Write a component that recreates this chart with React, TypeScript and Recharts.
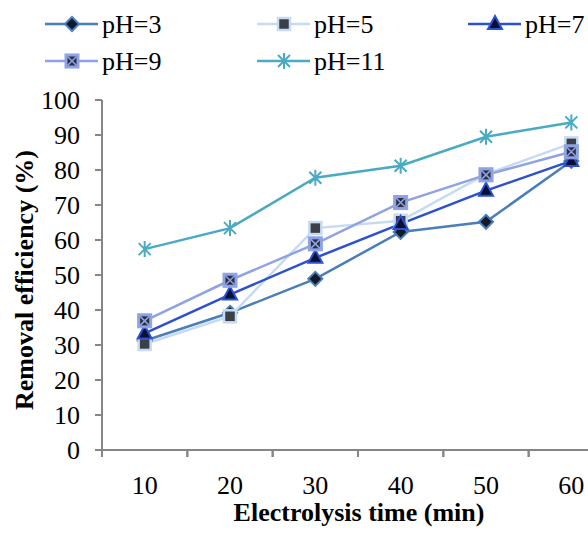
import { LineChart, Line, XAxis, YAxis } from "recharts";

const times = [10, 20, 30, 40, 50, 60];
const ph3 = [31.2, 39.2, 48.9, 62.3, 65.2, 82.6];
const ph5 = [30.3, 38.2, 63.4, 65.5, 78.8, 87.6];
const ph7 = [33.3, 44.4, 54.9, 64.6, 74.1, 82.6];
const ph9 = [36.9, 48.5, 58.9, 70.7, 78.6, 85.2];
const ph11 = [57.4, 63.4, 77.8, 81.2, 89.5, 93.6];
const yTicks = [0, 10, 20, 30, 40, 50, 60, 70, 80, 90, 100];

const data = times.map((t, i) => ({
  t,
  ph3: ph3[i],
  ph5: ph5[i],
  ph7: ph7[i],
  ph9: ph9[i],
  ph11: ph11[i],
}));

const FONT = '"Liberation Serif", "Times New Roman", Tinos';
const AXIS = "#868686";
const PLOT_BOTTOM = 450;
const HALF_BAND = 512 / 12;
const FS = 26;

type Kind = "diamond" | "square" | "triangle" | "xbox" | "star";

const series: { key: string; name: string; color: string; kind: Kind }[] = [
  { key: "ph3", name: "pH=3", color: "#4a7ebb", kind: "diamond" },
  { key: "ph5", name: "pH=5", color: "#c6dbf3", kind: "square" },
  { key: "ph7", name: "pH=7", color: "#2b50d4", kind: "triangle" },
  { key: "ph9", name: "pH=9", color: "#8fa2e4", kind: "xbox" },
  { key: "ph11", name: "pH=11", color: "#4aaac4", kind: "star" },
];

function Marker({ cx, cy, kind, color }: { cx: number; cy: number; kind: Kind; color: string }) {
  if (kind === "diamond") {
    return (
      <path
        d={`M${cx},${cy - 7} L${cx + 7},${cy} L${cx},${cy + 7} L${cx - 7},${cy} Z`}
        fill="#111a2a"
        stroke={color}
        strokeWidth={2}
      />
    );
  }
  if (kind === "square") {
    return <rect x={cx - 6} y={cy - 6} width={12} height={12} fill="#3b3f48" stroke={color} strokeWidth={2.5} />;
  }
  if (kind === "triangle") {
    return (
      <path
        d={`M${cx},${cy - 8} L${cx + 7},${cy + 5} L${cx - 7},${cy + 5} Z`}
        fill="#0b1030"
        stroke={color}
        strokeWidth={2}
      />
    );
  }
  if (kind === "xbox") {
    return (
      <g>
        <rect x={cx - 7} y={cy - 7} width={14} height={14} fill={color} stroke={color} strokeWidth={1} />
        <rect x={cx - 4.5} y={cy - 4.5} width={9} height={9} fill="#2a2f40" />
        <path
          d={`M${cx - 4.5},${cy - 4.5} L${cx + 4.5},${cy + 4.5} M${cx + 4.5},${cy - 4.5} L${cx - 4.5},${cy + 4.5}`}
          stroke={color}
          strokeWidth={1.5}
        />
      </g>
    );
  }
  return (
    <path
      d={`M${cx - 6},${cy - 6} L${cx + 6},${cy + 6} M${cx + 6},${cy - 6} L${cx - 6},${cy + 6} M${cx},${cy - 8} L${cx},${cy + 8}`}
      stroke={color}
      strokeWidth={2}
    />
  );
}

function XTick(props: any) {
  const { x, payload } = props;
  return (
    <g>
      <line x1={x - HALF_BAND} y1={PLOT_BOTTOM} x2={x - HALF_BAND} y2={PLOT_BOTTOM + 7} stroke={AXIS} strokeWidth={2} />
      <line x1={x + HALF_BAND} y1={PLOT_BOTTOM} x2={x + HALF_BAND} y2={PLOT_BOTTOM + 7} stroke={AXIS} strokeWidth={2} />
      <text x={x} y={485} textAnchor="middle" dominantBaseline="central" fontSize={FS} fill="#000">
        {payload.value}
      </text>
    </g>
  );
}

function YTick(props: any) {
  const { x, y, payload } = props;
  return (
    <text x={x} y={y} textAnchor="end" dominantBaseline="central" fontSize={FS} fill="#000">
      {payload.value}
    </text>
  );
}

function LegendBox() {
  const cols = [45, 257, 468];
  return (
    <svg width={588} height={90} style={{ position: "absolute", left: 0, top: 0 }}>
      {series.map((s, i) => {
        const x = cols[i % 3];
        const y = i < 3 ? 24 : 61;
        return (
          <g key={s.key}>
            <line x1={x} y1={y} x2={x + 53} y2={y} stroke={s.color} strokeWidth={2.5} />
            <Marker cx={x + 27} cy={y} kind={s.kind} color={s.color} />
            <text x={x + 57} y={y} dominantBaseline="central" fontSize={FS} fill="#000">
              {s.name}
            </text>
          </g>
        );
      })}
    </svg>
  );
}

export default function App() {
  return (
    <div
      className="ph-chart"
      style={{ position: "absolute", left: 0, top: 0, width: 588, height: 534, overflow: "hidden", background: "#fff" }}
    >
      <style>{`.ph-chart text, .ph-chart tspan { font-family: ${FONT} !important; }`}</style>
      <LineChart width={640} height={534} data={data} margin={{ top: 100, right: 26, bottom: 0, left: 0 }}>
        <XAxis
          dataKey="t"
          type="number"
          domain={[5, 65]}
          ticks={times}
          tickLine={false}
          axisLine={{ stroke: AXIS, strokeWidth: 2 }}
          tick={<XTick />}
          height={84}
          label={{
            content: () => (
              <text x={359} y={512} textAnchor="middle" dominantBaseline="central" fontSize={FS} fontWeight="bold" fill="#000">
                Electrolysis time (min)
              </text>
            ),
          }}
        />
        <YAxis
          domain={[0, 100]}
          ticks={yTicks}
          width={102}
          tickSize={7}
          tickMargin={15}
          tickLine={{ stroke: AXIS, strokeWidth: 2 }}
          axisLine={{ stroke: AXIS, strokeWidth: 2 }}
          tick={<YTick />}
          label={{
            content: () => (
              <text
                x={24}
                y={280}
                transform="rotate(-90, 24, 280)"
                textAnchor="middle"
                dominantBaseline="central"
                fontSize={FS}
                fontWeight="bold"
                fill="#000"
              >
                Removal efficiency (%)
              </text>
            ),
          }}
        />
        {series.map((s) => (
          <Line
            key={s.key}
            dataKey={s.key}
            name={s.name}
            stroke={s.color}
            strokeWidth={2.5}
            isAnimationActive={false}
            dot={(p: any) => <Marker key={`${s.key}-${p.index}`} cx={p.cx} cy={p.cy} kind={s.kind} color={s.color} />}
            activeDot={false}
          />
        ))}
      </LineChart>
      <LegendBox />
    </div>
  );
}
